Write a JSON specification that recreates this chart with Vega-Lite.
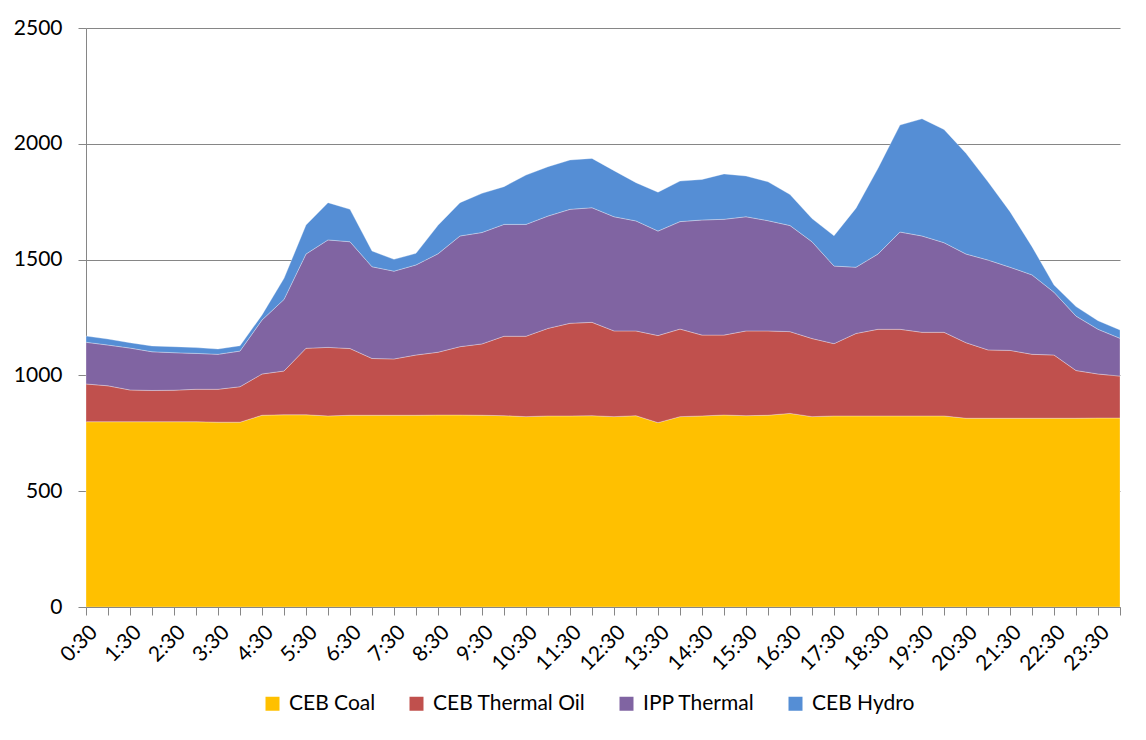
{
  "$schema": "https://vega.github.io/schema/vega-lite/v6.json",
  "width": 1034,
  "height": 579,
  "autosize": {"type": "none"},
  "padding": {"left": 86, "top": 28, "right": 26, "bottom": 133},
  "background": "#ffffff",
  "config": {
    "view": {"stroke": null},
    "font": "Lato",
    "axis": {"labelFont": "Lato", "labelFontSize": 21, "labelColor": "#000000", "tickColor": "#868686", "domainColor": "#868686", "gridColor": "#868686", "tickSize": 8, "titleFontSize": 0},
    "legend": {"labelFont": "Lato", "labelFontSize": 21, "labelColor": "#000000"}
  },
  "datasets": {
    "series": [
      {"key": "CEB Coal", "k": 1},
      {"key": "CEB Thermal Oil", "k": 2},
      {"key": "IPP Thermal", "k": 3},
      {"key": "CEB Hydro", "k": 4}
    ]
  },
  "data": {"values": [
    {"t": "0:30", "CEB Coal": 800, "CEB Thermal Oil": 163, "IPP Thermal": 180, "CEB Hydro": 27},
    {"t": "1:00", "CEB Coal": 800, "CEB Thermal Oil": 155, "IPP Thermal": 176, "CEB Hydro": 26},
    {"t": "1:30", "CEB Coal": 800, "CEB Thermal Oil": 137, "IPP Thermal": 181, "CEB Hydro": 23},
    {"t": "2:00", "CEB Coal": 800, "CEB Thermal Oil": 135, "IPP Thermal": 167, "CEB Hydro": 25},
    {"t": "2:30", "CEB Coal": 800, "CEB Thermal Oil": 136, "IPP Thermal": 162, "CEB Hydro": 26},
    {"t": "3:00", "CEB Coal": 800, "CEB Thermal Oil": 140, "IPP Thermal": 155, "CEB Hydro": 25},
    {"t": "3:30", "CEB Coal": 798, "CEB Thermal Oil": 142, "IPP Thermal": 151, "CEB Hydro": 23},
    {"t": "4:00", "CEB Coal": 798, "CEB Thermal Oil": 153, "IPP Thermal": 154, "CEB Hydro": 23},
    {"t": "4:30", "CEB Coal": 828, "CEB Thermal Oil": 178, "IPP Thermal": 233, "CEB Hydro": 22},
    {"t": "5:00", "CEB Coal": 830, "CEB Thermal Oil": 189, "IPP Thermal": 309, "CEB Hydro": 91},
    {"t": "5:30", "CEB Coal": 830, "CEB Thermal Oil": 287, "IPP Thermal": 407, "CEB Hydro": 125},
    {"t": "6:00", "CEB Coal": 825, "CEB Thermal Oil": 296, "IPP Thermal": 464, "CEB Hydro": 161},
    {"t": "6:30", "CEB Coal": 828, "CEB Thermal Oil": 288, "IPP Thermal": 461, "CEB Hydro": 140},
    {"t": "7:00", "CEB Coal": 828, "CEB Thermal Oil": 245, "IPP Thermal": 396, "CEB Hydro": 68},
    {"t": "7:30", "CEB Coal": 828, "CEB Thermal Oil": 243, "IPP Thermal": 379, "CEB Hydro": 51},
    {"t": "8:00", "CEB Coal": 828, "CEB Thermal Oil": 260, "IPP Thermal": 389, "CEB Hydro": 50},
    {"t": "8:30", "CEB Coal": 829, "CEB Thermal Oil": 271, "IPP Thermal": 425, "CEB Hydro": 123},
    {"t": "9:00", "CEB Coal": 829, "CEB Thermal Oil": 295, "IPP Thermal": 478, "CEB Hydro": 144},
    {"t": "9:30", "CEB Coal": 828, "CEB Thermal Oil": 308, "IPP Thermal": 481, "CEB Hydro": 169},
    {"t": "10:00", "CEB Coal": 826, "CEB Thermal Oil": 343, "IPP Thermal": 483, "CEB Hydro": 163},
    {"t": "10:30", "CEB Coal": 822, "CEB Thermal Oil": 347, "IPP Thermal": 483, "CEB Hydro": 213},
    {"t": "11:00", "CEB Coal": 825, "CEB Thermal Oil": 378, "IPP Thermal": 485, "CEB Hydro": 213},
    {"t": "11:30", "CEB Coal": 825, "CEB Thermal Oil": 400, "IPP Thermal": 492, "CEB Hydro": 213},
    {"t": "12:00", "CEB Coal": 826, "CEB Thermal Oil": 403, "IPP Thermal": 495, "CEB Hydro": 213},
    {"t": "12:30", "CEB Coal": 822, "CEB Thermal Oil": 370, "IPP Thermal": 493, "CEB Hydro": 199},
    {"t": "13:00", "CEB Coal": 826, "CEB Thermal Oil": 366, "IPP Thermal": 475, "CEB Hydro": 165},
    {"t": "13:30", "CEB Coal": 796, "CEB Thermal Oil": 376, "IPP Thermal": 451, "CEB Hydro": 168},
    {"t": "14:00", "CEB Coal": 822, "CEB Thermal Oil": 378, "IPP Thermal": 464, "CEB Hydro": 175},
    {"t": "14:30", "CEB Coal": 825, "CEB Thermal Oil": 349, "IPP Thermal": 497, "CEB Hydro": 175},
    {"t": "15:00", "CEB Coal": 829, "CEB Thermal Oil": 345, "IPP Thermal": 500, "CEB Hydro": 196},
    {"t": "15:30", "CEB Coal": 826, "CEB Thermal Oil": 366, "IPP Thermal": 493, "CEB Hydro": 176},
    {"t": "16:00", "CEB Coal": 828, "CEB Thermal Oil": 364, "IPP Thermal": 476, "CEB Hydro": 168},
    {"t": "16:30", "CEB Coal": 836, "CEB Thermal Oil": 353, "IPP Thermal": 458, "CEB Hydro": 134},
    {"t": "17:00", "CEB Coal": 822, "CEB Thermal Oil": 337, "IPP Thermal": 418, "CEB Hydro": 100},
    {"t": "17:30", "CEB Coal": 825, "CEB Thermal Oil": 312, "IPP Thermal": 335, "CEB Hydro": 131},
    {"t": "18:00", "CEB Coal": 825, "CEB Thermal Oil": 356, "IPP Thermal": 286, "CEB Hydro": 255},
    {"t": "18:30", "CEB Coal": 825, "CEB Thermal Oil": 374, "IPP Thermal": 325, "CEB Hydro": 370},
    {"t": "19:00", "CEB Coal": 825, "CEB Thermal Oil": 374, "IPP Thermal": 420, "CEB Hydro": 462},
    {"t": "19:30", "CEB Coal": 825, "CEB Thermal Oil": 361, "IPP Thermal": 416, "CEB Hydro": 506},
    {"t": "20:00", "CEB Coal": 825, "CEB Thermal Oil": 361, "IPP Thermal": 387, "CEB Hydro": 489},
    {"t": "20:30", "CEB Coal": 815, "CEB Thermal Oil": 326, "IPP Thermal": 383, "CEB Hydro": 435},
    {"t": "21:00", "CEB Coal": 815, "CEB Thermal Oil": 295, "IPP Thermal": 388, "CEB Hydro": 338},
    {"t": "21:30", "CEB Coal": 815, "CEB Thermal Oil": 293, "IPP Thermal": 359, "CEB Hydro": 240},
    {"t": "22:00", "CEB Coal": 815, "CEB Thermal Oil": 276, "IPP Thermal": 343, "CEB Hydro": 122},
    {"t": "22:30", "CEB Coal": 815, "CEB Thermal Oil": 273, "IPP Thermal": 271, "CEB Hydro": 31},
    {"t": "23:00", "CEB Coal": 815, "CEB Thermal Oil": 206, "IPP Thermal": 235, "CEB Hydro": 41},
    {"t": "23:30", "CEB Coal": 816, "CEB Thermal Oil": 190, "IPP Thermal": 193, "CEB Hydro": 37},
    {"t": "24:00", "CEB Coal": 816, "CEB Thermal Oil": 181, "IPP Thermal": 163, "CEB Hydro": 36}
  ]},
  "transform": [
    {"fold": ["CEB Coal", "CEB Thermal Oil", "IPP Thermal", "CEB Hydro"], "as": ["source", "mw"]},
    {"lookup": "source", "from": {"data": {"name": "series"}, "key": "key", "fields": ["k"]}}
  ],
  "mark": {"type": "area", "stroke": "#ffffff", "strokeWidth": 0.6, "strokeOpacity": 0.5},
  "encoding": {
    "x": {
      "field": "t", "type": "ordinal", "sort": null,
      "scale": {"type": "point", "padding": 0},
      "axis": {
        "title": null, "labelAngle": -45, "labelPadding": 6, "grid": false,
        "labelExpr": "indexof(datum.label, ':30') >= 0 ? datum.label : ''",
        "zindex": 1
      }
    },
    "y": {
      "field": "mw", "type": "quantitative", "stack": "zero",
      "scale": {"domain": [0, 2500], "nice": false},
      "axis": {
        "title": null, "values": [0, 500, 1000, 1500, 2000, 2500], "format": "d",
        "grid": true, "gridWidth": 1.2, "labelPadding": 16, "labelAlign": "right"
      }
    },
    "color": {
      "field": "source", "type": "nominal",
      "scale": {
        "domain": ["CEB Coal", "CEB Thermal Oil", "IPP Thermal", "CEB Hydro"],
        "range": ["#FFC000", "#C0504D", "#8064A2", "#558ED5"]
      },
      "legend": {
        "title": null, "orient": "none", "direction": "horizontal",
        "legendX": 176, "legendY": 665,
        "symbolType": "square", "symbolSize": 196, "symbolStrokeWidth": 0,
        "labelOffset": 6, "columnPadding": 30
      }
    },
    "order": {"field": "k", "type": "quantitative", "sort": "ascending"}
  }
}
